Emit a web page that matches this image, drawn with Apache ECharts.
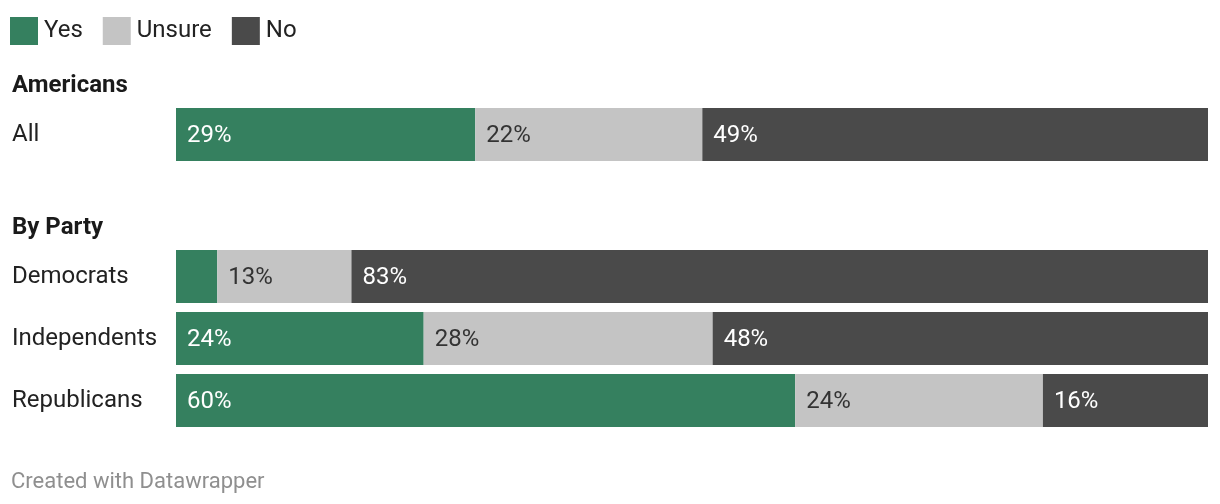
<!DOCTYPE html>
<html><head><meta charset="utf-8">
<script src="https://cdn.jsdelivr.net/npm/echarts@6/dist/echarts.min.js"></script>
<style>html,body{margin:0;padding:0;background:#fff}#c{width:1220px;height:504px}</style>
</head><body><div id="c"></div>
<script>
const seriesNames = ['Yes', 'Unsure', 'No'];
const colors = ['#35805f', '#c4c4c4', '#4a4a4a'];
const labelColors = ['#ffffff', '#333333', '#ffffff'];
const groupTitles = ['Americans', 'By Party'];
const allCats = ['All'];
const allYes = [29];
const allUnsure = [22];
const allNo = [49];
const partyCats = ['Democrats', 'Independents', 'Republicans'];
const partyYes = [4, 24, 60];
const partyUnsure = [13, 28, 24];
const partyNo = [83, 48, 16];
const footer = 'Created with Datawrapper';

const FONT = 'Roboto';
const chart = echarts.init(document.getElementById('c'));
const groups = [[allYes, allUnsure, allNo], [partyYes, partyUnsure, partyNo]];
const series = [];
groups.forEach((g, gi) => {
  g.forEach((vals, si) => {
    series.push({
      name: seriesNames[si], type: 'bar', stack: 'g' + gi,
      xAxisIndex: gi, yAxisIndex: gi, barWidth: 53,
      itemStyle: { color: colors[si] },
      label: {
        show: true, position: 'insideLeft', distance: 11, offset: [0, 1],
        color: labelColors[si], fontFamily: FONT, fontSize: 24,
        formatter: p => p.value < 6 ? '' : p.value + '%'
      },
      emphasis: { disabled: true },
      animation: false,
      data: vals
    });
  });
});
const yAxisCommon = {
  type: 'category', inverse: true,
  axisLine: { show: false }, axisTick: { show: false },
  axisLabel: { align: 'left', margin: 164, color: '#222', fontFamily: FONT, fontSize: 24, padding: [2, 0, 0, 0] }
};
chart.setOption({
  animation: false,
  legend: {
    data: seriesNames, left: 5, top: 12, icon: 'rect',
    itemWidth: 28, itemHeight: 28, itemGap: 20,
    textStyle: { fontFamily: FONT, fontSize: 24, color: '#222', padding: [0, 0, 0, 1] },
    selectedMode: false
  },
  grid: [
    { left: 176, right: 12, top: 103.5, height: 62 },
    { left: 176, right: 12, top: 245.5, height: 186 }
  ],
  xAxis: [
    { type: 'value', min: 0, max: 100, gridIndex: 0, show: false },
    { type: 'value', min: 0, max: 100, gridIndex: 1, show: false }
  ],
  yAxis: [
    Object.assign({ gridIndex: 0, data: allCats }, yAxisCommon),
    Object.assign({ gridIndex: 1, data: partyCats }, yAxisCommon)
  ],
  graphic: [
    { type: 'text', left: 12, top: 74, style: { text: groupTitles[0], font: 'bold 24px Roboto', fill: '#1a1a1a' } },
    { type: 'text', left: 12, top: 216, style: { text: groupTitles[1], font: 'bold 24px Roboto', fill: '#1a1a1a' } },
    { type: 'text', left: 11, top: 471, style: { text: footer, font: '22px Roboto', fill: '#8f8f8f' } }
  ],
  series: series
});
</script></body></html>
